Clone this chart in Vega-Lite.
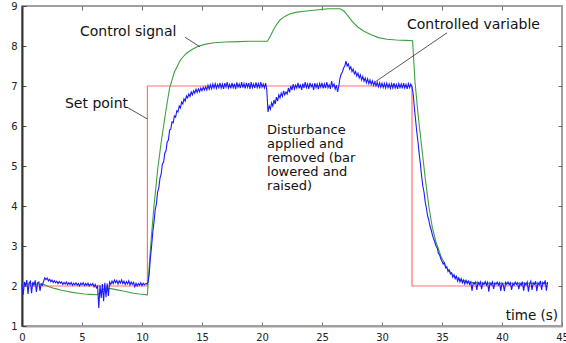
{
"$schema": "https://vega.github.io/schema/vega-lite/v6.json",
"width": 540, "height": 320, "autosize": "none",
"padding": {"left": 22, "top": 6, "right": 4, "bottom": 17},
"background": "white",
"config": {"view": {"stroke": "#a0a0a0", "strokeWidth": 2}, "font": "DejaVu Sans"},
"datasets": {
"sp": [{"t":0,"v":2},{"t":10.45,"v":7},{"t":32.5,"v":2},{"t":43.8,"v":2}],
"cs": [{"t":0,"v":2.05},{"t":0.5,"v":2.05},{"t":1.0,"v":2.05},{"t":1.5,"v":2.05},{"t":1.8,"v":2.04},{"t":2.2,"v":1.99},{"t":2.7,"v":1.94},{"t":3.2,"v":1.9},{"t":3.7,"v":1.87},{"t":4.2,"v":1.84},{"t":4.7,"v":1.82},{"t":5.2,"v":1.8},{"t":5.7,"v":1.79},{"t":6.3,"v":1.78},{"t":6.6,"v":1.88},{"t":6.9,"v":1.95},{"t":7.3,"v":1.94},{"t":7.8,"v":1.91},{"t":8.3,"v":1.88},{"t":8.8,"v":1.85},{"t":9.3,"v":1.82},{"t":9.8,"v":1.8},{"t":10.45,"v":1.78},{"t":10.6,"v":2.5},{"t":10.8,"v":3.3},{"t":11.0,"v":4.0},{"t":11.3,"v":4.9},{"t":11.6,"v":5.6},{"t":12.0,"v":6.4},{"t":12.3,"v":6.95},{"t":12.7,"v":7.35},{"t":13.2,"v":7.65},{"t":13.7,"v":7.82},{"t":14.2,"v":7.92},{"t":14.6,"v":7.98},{"t":15.2,"v":8.04},{"t":16,"v":8.08},{"t":17,"v":8.1},{"t":18,"v":8.11},{"t":19,"v":8.12},{"t":20.45,"v":8.12},{"t":20.7,"v":8.25},{"t":20.95,"v":8.4},{"t":21.2,"v":8.53},{"t":21.5,"v":8.65},{"t":21.9,"v":8.74},{"t":22.3,"v":8.8},{"t":22.8,"v":8.84},{"t":23.5,"v":8.87},{"t":24.5,"v":8.9},{"t":25.5,"v":8.93},{"t":26.5,"v":8.93},{"t":26.8,"v":8.88},{"t":27.1,"v":8.78},{"t":27.5,"v":8.62},{"t":28.0,"v":8.47},{"t":28.5,"v":8.37},{"t":29.1,"v":8.28},{"t":29.7,"v":8.21},{"t":30.4,"v":8.17},{"t":31.2,"v":8.15},{"t":32.0,"v":8.14},{"t":32.55,"v":8.13},{"t":32.75,"v":7.1},{"t":33.0,"v":6.3},{"t":33.3,"v":5.5},{"t":33.6,"v":4.7},{"t":33.9,"v":4.0},{"t":34.2,"v":3.45},{"t":34.5,"v":3.1},{"t":34.9,"v":2.75},{"t":35.4,"v":2.45},{"t":36,"v":2.25},{"t":36.7,"v":2.14},{"t":37.5,"v":2.09},{"t":38.5,"v":2.07},{"t":40,"v":2.07},{"t":42,"v":2.07},{"t":43.8,"v":2.07}],
"cv": [{"t":0.0,"v":2.05},{"t":0.1,"v":1.78},{"t":0.2,"v":2.1},{"t":0.3,"v":2.0},{"t":0.4,"v":2.15},{"t":0.5,"v":1.8},{"t":0.6,"v":2.08},{"t":0.7,"v":2.12},{"t":0.8,"v":1.82},{"t":0.9,"v":2.1},{"t":1.0,"v":2.02},{"t":1.1,"v":2.14},{"t":1.2,"v":1.85},{"t":1.3,"v":2.08},{"t":1.4,"v":2.1},{"t":1.5,"v":1.88},{"t":1.6,"v":2.05},{"t":1.7,"v":2.02},{"t":1.8,"v":2.12},{"t":1.9,"v":2.2},{"t":2.0,"v":2.16},{"t":2.1,"v":2.2},{"t":2.2,"v":2.13},{"t":2.3,"v":2.17},{"t":2.4,"v":2.11},{"t":2.5,"v":2.15},{"t":2.6,"v":2.09},{"t":2.7,"v":2.13},{"t":2.8,"v":2.08},{"t":2.9,"v":2.12},{"t":3.0,"v":2.06},{"t":3.1,"v":2.11},{"t":3.2,"v":2.07},{"t":3.3,"v":2.1},{"t":3.4,"v":2.04},{"t":3.5,"v":2.09},{"t":3.6,"v":2.05},{"t":3.7,"v":2.1},{"t":3.8,"v":2.03},{"t":3.9,"v":2.08},{"t":4.0,"v":2.04},{"t":4.1,"v":2.09},{"t":4.2,"v":2.02},{"t":4.3,"v":2.07},{"t":4.4,"v":2.03},{"t":4.5,"v":2.08},{"t":4.6,"v":2.02},{"t":4.7,"v":2.06},{"t":4.8,"v":2.0},{"t":4.9,"v":2.07},{"t":5.0,"v":2.03},{"t":5.1,"v":2.08},{"t":5.2,"v":2.01},{"t":5.3,"v":2.06},{"t":5.4,"v":2.02},{"t":5.5,"v":2.07},{"t":5.6,"v":2.0},{"t":5.7,"v":2.05},{"t":5.8,"v":2.02},{"t":5.9,"v":2.06},{"t":6.0,"v":1.98},{"t":6.1,"v":2.04},{"t":6.2,"v":1.95},{"t":6.3,"v":2.0},{"t":6.4,"v":1.45},{"t":6.5,"v":2.02},{"t":6.6,"v":1.7},{"t":6.7,"v":2.05},{"t":6.8,"v":1.62},{"t":6.9,"v":2.08},{"t":7.0,"v":1.72},{"t":7.1,"v":2.06},{"t":7.2,"v":1.75},{"t":7.3,"v":2.1},{"t":7.4,"v":2.04},{"t":7.5,"v":2.12},{"t":7.6,"v":2.06},{"t":7.7,"v":2.15},{"t":7.8,"v":2.08},{"t":7.9,"v":2.14},{"t":8.0,"v":2.05},{"t":8.1,"v":2.13},{"t":8.2,"v":2.07},{"t":8.3,"v":2.15},{"t":8.4,"v":2.06},{"t":8.5,"v":2.12},{"t":8.6,"v":2.04},{"t":8.7,"v":2.11},{"t":8.8,"v":2.05},{"t":8.9,"v":2.13},{"t":9.0,"v":2.03},{"t":9.1,"v":2.1},{"t":9.2,"v":2.04},{"t":9.3,"v":2.09},{"t":9.4,"v":1.98},{"t":9.5,"v":2.07},{"t":9.6,"v":2.0},{"t":9.7,"v":2.06},{"t":9.8,"v":2.02},{"t":9.9,"v":2.08},{"t":10.0,"v":2.01},{"t":10.1,"v":2.07},{"t":10.2,"v":2.03},{"t":10.3,"v":2.06},{"t":10.4,"v":2.05},{"t":10.5,"v":2.1},{"t":10.6,"v":2.3},{"t":10.7,"v":2.7},{"t":10.8,"v":3.0},{"t":10.9,"v":3.35},{"t":11.0,"v":3.6},{"t":11.1,"v":3.9},{"t":11.2,"v":4.05},{"t":11.3,"v":4.35},{"t":11.4,"v":4.45},{"t":11.5,"v":4.7},{"t":11.6,"v":4.8},{"t":11.7,"v":5.05},{"t":11.8,"v":5.1},{"t":11.9,"v":5.32},{"t":12.0,"v":5.38},{"t":12.1,"v":5.6},{"t":12.2,"v":5.65},{"t":12.3,"v":5.9},{"t":12.4,"v":5.92},{"t":12.5,"v":6.1},{"t":12.6,"v":6.08},{"t":12.7,"v":6.25},{"t":12.8,"v":6.22},{"t":12.9,"v":6.38},{"t":13.0,"v":6.35},{"t":13.1,"v":6.5},{"t":13.2,"v":6.45},{"t":13.3,"v":6.6},{"t":13.4,"v":6.55},{"t":13.5,"v":6.68},{"t":13.6,"v":6.62},{"t":13.7,"v":6.75},{"t":13.8,"v":6.7},{"t":13.9,"v":6.8},{"t":14.0,"v":6.74},{"t":14.1,"v":6.85},{"t":14.2,"v":6.78},{"t":14.3,"v":6.88},{"t":14.4,"v":6.82},{"t":14.5,"v":6.92},{"t":14.6,"v":6.84},{"t":14.7,"v":6.93},{"t":14.8,"v":6.86},{"t":14.9,"v":6.95},{"t":15.0,"v":6.88},{"t":15.1,"v":6.97},{"t":15.2,"v":6.9},{"t":15.3,"v":6.98},{"t":15.4,"v":6.9},{"t":15.5,"v":7.02},{"t":15.6,"v":6.92},{"t":15.7,"v":7.03},{"t":15.8,"v":6.93},{"t":15.9,"v":7.05},{"t":16.0,"v":6.95},{"t":16.1,"v":7.06},{"t":16.2,"v":6.94},{"t":16.3,"v":7.04},{"t":16.4,"v":6.96},{"t":16.5,"v":7.08},{"t":16.6,"v":6.95},{"t":16.7,"v":7.05},{"t":16.8,"v":6.93},{"t":16.9,"v":7.07},{"t":17.0,"v":6.97},{"t":17.1,"v":7.1},{"t":17.2,"v":6.95},{"t":17.3,"v":7.04},{"t":17.4,"v":6.94},{"t":17.5,"v":7.08},{"t":17.6,"v":6.96},{"t":17.7,"v":7.06},{"t":17.8,"v":6.92},{"t":17.9,"v":7.09},{"t":18.0,"v":6.97},{"t":18.1,"v":7.05},{"t":18.2,"v":6.95},{"t":18.3,"v":7.1},{"t":18.4,"v":6.96},{"t":18.5,"v":7.06},{"t":18.6,"v":6.94},{"t":18.7,"v":7.08},{"t":18.8,"v":6.97},{"t":18.9,"v":7.07},{"t":19.0,"v":6.93},{"t":19.1,"v":7.1},{"t":19.2,"v":6.96},{"t":19.3,"v":7.05},{"t":19.4,"v":6.95},{"t":19.5,"v":7.09},{"t":19.6,"v":6.96},{"t":19.7,"v":7.06},{"t":19.8,"v":6.94},{"t":19.9,"v":7.1},{"t":20.0,"v":6.97},{"t":20.1,"v":7.05},{"t":20.2,"v":6.95},{"t":20.3,"v":7.07},{"t":20.4,"v":6.9},{"t":20.5,"v":6.35},{"t":20.6,"v":6.5},{"t":20.7,"v":6.42},{"t":20.8,"v":6.58},{"t":20.9,"v":6.5},{"t":21.0,"v":6.65},{"t":21.1,"v":6.55},{"t":21.2,"v":6.72},{"t":21.3,"v":6.62},{"t":21.4,"v":6.78},{"t":21.5,"v":6.7},{"t":21.6,"v":6.82},{"t":21.7,"v":6.74},{"t":21.8,"v":6.88},{"t":21.9,"v":6.78},{"t":22.0,"v":6.85},{"t":22.1,"v":6.8},{"t":22.2,"v":6.95},{"t":22.3,"v":6.84},{"t":22.4,"v":7.0},{"t":22.5,"v":6.9},{"t":22.6,"v":7.05},{"t":22.7,"v":6.92},{"t":22.8,"v":7.02},{"t":22.9,"v":6.95},{"t":23.0,"v":7.08},{"t":23.1,"v":6.94},{"t":23.2,"v":7.04},{"t":23.3,"v":6.9},{"t":23.4,"v":7.06},{"t":23.5,"v":6.95},{"t":23.6,"v":7.1},{"t":23.7,"v":6.96},{"t":23.8,"v":7.05},{"t":23.9,"v":6.93},{"t":24.0,"v":7.08},{"t":24.1,"v":6.98},{"t":24.2,"v":7.04},{"t":24.3,"v":6.9},{"t":24.4,"v":7.07},{"t":24.5,"v":6.96},{"t":24.6,"v":7.05},{"t":24.7,"v":6.92},{"t":24.8,"v":7.06},{"t":24.9,"v":6.97},{"t":25.0,"v":7.08},{"t":25.1,"v":6.94},{"t":25.2,"v":7.05},{"t":25.3,"v":6.95},{"t":25.4,"v":7.1},{"t":25.5,"v":6.96},{"t":25.6,"v":7.03},{"t":25.7,"v":6.93},{"t":25.8,"v":7.12},{"t":25.9,"v":6.98},{"t":26.0,"v":7.05},{"t":26.1,"v":6.92},{"t":26.2,"v":7.02},{"t":26.3,"v":6.85},{"t":26.4,"v":7.0},{"t":26.5,"v":7.2},{"t":26.6,"v":7.3},{"t":26.7,"v":7.35},{"t":26.8,"v":7.45},{"t":26.9,"v":7.5},{"t":27.0,"v":7.62},{"t":27.1,"v":7.5},{"t":27.2,"v":7.55},{"t":27.3,"v":7.42},{"t":27.4,"v":7.48},{"t":27.5,"v":7.36},{"t":27.6,"v":7.42},{"t":27.7,"v":7.3},{"t":27.8,"v":7.36},{"t":27.9,"v":7.25},{"t":28.0,"v":7.32},{"t":28.1,"v":7.2},{"t":28.2,"v":7.28},{"t":28.3,"v":7.15},{"t":28.4,"v":7.24},{"t":28.5,"v":7.12},{"t":28.6,"v":7.2},{"t":28.7,"v":7.08},{"t":28.8,"v":7.18},{"t":28.9,"v":7.06},{"t":29.0,"v":7.15},{"t":29.1,"v":7.04},{"t":29.2,"v":7.13},{"t":29.3,"v":7.02},{"t":29.4,"v":7.1},{"t":29.5,"v":7.0},{"t":29.6,"v":7.09},{"t":29.7,"v":6.98},{"t":29.8,"v":7.08},{"t":29.9,"v":6.97},{"t":30.0,"v":7.07},{"t":30.1,"v":6.96},{"t":30.2,"v":7.06},{"t":30.3,"v":6.95},{"t":30.4,"v":7.07},{"t":30.5,"v":6.96},{"t":30.6,"v":7.05},{"t":30.7,"v":6.94},{"t":30.8,"v":7.06},{"t":30.9,"v":6.95},{"t":31.0,"v":7.07},{"t":31.1,"v":6.95},{"t":31.2,"v":7.04},{"t":31.3,"v":6.93},{"t":31.4,"v":7.06},{"t":31.5,"v":6.96},{"t":31.6,"v":7.05},{"t":31.7,"v":6.94},{"t":31.8,"v":7.07},{"t":31.9,"v":6.95},{"t":32.0,"v":7.04},{"t":32.1,"v":6.93},{"t":32.2,"v":7.06},{"t":32.3,"v":6.96},{"t":32.4,"v":7.05},{"t":32.5,"v":6.98},{"t":32.6,"v":6.8},{"t":32.7,"v":6.45},{"t":32.8,"v":6.15},{"t":32.9,"v":5.85},{"t":33.0,"v":5.6},{"t":33.1,"v":5.3},{"t":33.2,"v":5.05},{"t":33.3,"v":4.75},{"t":33.4,"v":4.5},{"t":33.5,"v":4.35},{"t":33.6,"v":4.1},{"t":33.7,"v":3.95},{"t":33.8,"v":3.75},{"t":33.9,"v":3.65},{"t":34.0,"v":3.5},{"t":34.1,"v":3.4},{"t":34.2,"v":3.28},{"t":34.3,"v":3.18},{"t":34.4,"v":3.1},{"t":34.5,"v":3.0},{"t":34.6,"v":2.95},{"t":34.7,"v":2.82},{"t":34.8,"v":2.78},{"t":34.9,"v":2.68},{"t":35.0,"v":2.62},{"t":35.1,"v":2.55},{"t":35.2,"v":2.58},{"t":35.3,"v":2.45},{"t":35.4,"v":2.48},{"t":35.5,"v":2.36},{"t":35.6,"v":2.4},{"t":35.7,"v":2.3},{"t":35.8,"v":2.33},{"t":35.9,"v":2.22},{"t":36.0,"v":2.28},{"t":36.1,"v":2.18},{"t":36.2,"v":2.24},{"t":36.3,"v":2.12},{"t":36.4,"v":2.2},{"t":36.5,"v":2.1},{"t":36.6,"v":2.18},{"t":36.7,"v":2.08},{"t":36.8,"v":2.15},{"t":36.9,"v":2.05},{"t":37.0,"v":2.14},{"t":37.1,"v":2.06},{"t":37.2,"v":2.12},{"t":37.3,"v":2.04},{"t":37.4,"v":2.1},{"t":37.5,"v":1.88},{"t":37.6,"v":2.08},{"t":37.7,"v":2.05},{"t":37.8,"v":2.1},{"t":37.9,"v":1.9},{"t":38.0,"v":2.09},{"t":38.1,"v":2.03},{"t":38.2,"v":2.1},{"t":38.3,"v":1.92},{"t":38.4,"v":2.08},{"t":38.5,"v":2.04},{"t":38.6,"v":2.11},{"t":38.7,"v":2.02},{"t":38.8,"v":2.09},{"t":38.9,"v":1.86},{"t":39.0,"v":2.08},{"t":39.1,"v":2.03},{"t":39.2,"v":2.1},{"t":39.3,"v":1.93},{"t":39.4,"v":2.07},{"t":39.5,"v":2.04},{"t":39.6,"v":2.1},{"t":39.7,"v":2.02},{"t":39.8,"v":2.08},{"t":39.9,"v":1.88},{"t":40.0,"v":2.07},{"t":40.1,"v":2.03},{"t":40.2,"v":1.87},{"t":40.3,"v":2.09},{"t":40.4,"v":2.04},{"t":40.5,"v":2.1},{"t":40.6,"v":2.03},{"t":40.7,"v":2.08},{"t":40.8,"v":1.9},{"t":40.9,"v":2.06},{"t":41.0,"v":2.02},{"t":41.1,"v":2.1},{"t":41.2,"v":2.04},{"t":41.3,"v":2.08},{"t":41.4,"v":1.92},{"t":41.5,"v":2.07},{"t":41.6,"v":2.02},{"t":41.7,"v":2.11},{"t":41.8,"v":1.88},{"t":41.9,"v":2.07},{"t":42.0,"v":2.03},{"t":42.1,"v":2.1},{"t":42.2,"v":1.86},{"t":42.3,"v":2.06},{"t":42.4,"v":2.12},{"t":42.5,"v":1.9},{"t":42.6,"v":2.08},{"t":42.7,"v":2.04},{"t":42.8,"v":2.12},{"t":42.9,"v":1.87},{"t":43.0,"v":2.08},{"t":43.1,"v":2.03},{"t":43.2,"v":2.13},{"t":43.3,"v":1.9},{"t":43.4,"v":2.09},{"t":43.5,"v":2.05},{"t":43.6,"v":2.14},{"t":43.7,"v":1.88},{"t":43.8,"v":2.1}],
"leaders": [{"t":13.58,"v":8.22,"t2":14.83,"v2":7.98},{"t":8.75,"v":6.47,"t2":10.42,"v2":6.18},{"t":35.42,"v":8.33,"t2":29.42,"v2":7.1}],
"labels": [{"t":4.83,"v":8.36,"text":"Control signal"},{"t":3.58,"v":6.55,"text":"Set point"},{"t":32.08,"v":8.525,"text":"Controlled variable"}],
"dist": [{"t":20.42,"v":5.8,"text":"Disturbance\napplied and\nremoved (bar\nlowered and\nraised)"}],
"tlabel": [{"t":44.67,"v":1.25,"text":"time (s)"}]
},
"layer": [
{"data": {"name": "sp"},
 "mark": {"type": "line", "interpolate": "step-after", "color": "#ff7070", "strokeWidth": 1.2},
 "encoding": {
  "x": {"field": "t", "type": "quantitative", "scale": {"domain": [0, 45], "nice": false, "zero": false},
   "axis": {"orient": "bottom", "title": null, "values": [0,5,10,15,20,25,30,35,40,45], "grid": false, "tickSize": -4, "tickColor": "#777", "domainColor": "#a0a0a0", "domainWidth": 2, "labelPadding": 10, "labelFont": "DejaVu Sans", "labelFontSize": 10, "labelColor": "#222", "labelFlush": false, "labelOverlap": false}},
  "y": {"field": "v", "type": "quantitative", "scale": {"domain": [1, 9], "nice": false, "zero": false},
   "axis": {"orient": "left", "title": null, "values": [1,2,3,4,5,6,7,8,9], "grid": false, "tickSize": -4, "tickColor": "#444", "domainColor": "#333", "domainWidth": 2, "labelPadding": 9, "labelFont": "DejaVu Sans", "labelFontSize": 10, "labelColor": "#222", "labelOverlap": false}}
 }},
{"data": {"name": "sp"},
 "mark": {"type": "line", "opacity": 0},
 "encoding": {
  "x": {"field": "t", "type": "quantitative", "axis": {"orient": "top", "title": null, "values": [5,10,15,20,25,30,35,40], "grid": false, "labels": false, "domain": false, "tickSize": -4, "tickColor": "#666"}},
  "y": {"field": "v", "type": "quantitative", "axis": {"orient": "right", "title": null, "values": [2,3,4,5,6,7,8], "grid": false, "labels": false, "domain": false, "tickSize": -4, "tickColor": "#666"}}
 }},
{"data": {"name": "cs"},
 "mark": {"type": "line", "color": "#3ea03e", "strokeWidth": 1.1},
 "encoding": {"x": {"field": "t", "type": "quantitative", "axis": null}, "y": {"field": "v", "type": "quantitative", "axis": null}}},
{"data": {"name": "cv"},
 "mark": {"type": "line", "color": "#1a1aff", "strokeWidth": 1.1},
 "encoding": {"x": {"field": "t", "type": "quantitative", "axis": null}, "y": {"field": "v", "type": "quantitative", "axis": null}}},
{"data": {"name": "leaders"},
 "mark": {"type": "rule", "color": "#444", "strokeWidth": 0.9},
 "encoding": {"x": {"field": "t", "type": "quantitative", "axis": null}, "y": {"field": "v", "type": "quantitative", "axis": null}, "x2": {"field": "t2"}, "y2": {"field": "v2"}}},
{"data": {"name": "labels"},
 "mark": {"type": "text", "align": "left", "baseline": "middle", "font": "DejaVu Sans", "fontSize": 14, "color": "#111"},
 "encoding": {"x": {"field": "t", "type": "quantitative", "axis": null}, "y": {"field": "v", "type": "quantitative", "axis": null}, "text": {"field": "text"}}},
{"data": {"name": "dist"},
 "mark": {"type": "text", "align": "left", "baseline": "alphabetic", "font": "DejaVu Sans", "fontSize": 13, "lineBreak": "\n", "lineHeight": 14, "color": "#111"},
 "encoding": {"x": {"field": "t", "type": "quantitative", "axis": null}, "y": {"field": "v", "type": "quantitative", "axis": null}, "text": {"field": "text"}}},
{"data": {"name": "tlabel"},
 "mark": {"type": "text", "align": "right", "baseline": "middle", "font": "DejaVu Sans", "fontSize": 13.5, "color": "#111"},
 "encoding": {"x": {"field": "t", "type": "quantitative", "axis": null}, "y": {"field": "v", "type": "quantitative", "axis": null}, "text": {"field": "text"}}}
],
"resolve": {"axis": {"x": "independent", "y": "independent"}}
}
